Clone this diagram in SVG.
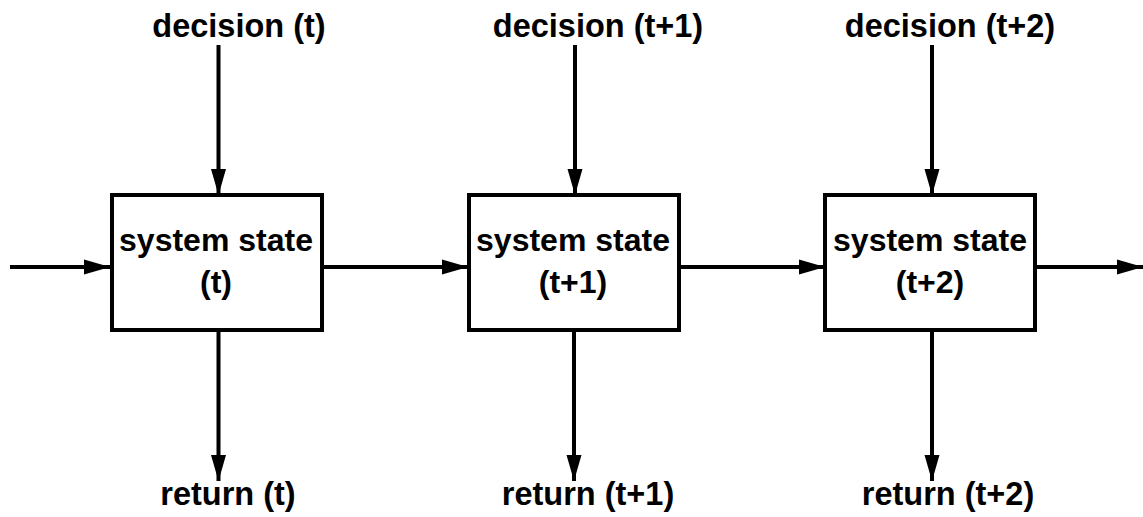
<svg xmlns="http://www.w3.org/2000/svg" width="1143" height="517" viewBox="0 0 1143 517">
<style>
.box{fill:#fff;stroke:#000;stroke-width:4}
.ln{stroke:#000;stroke-width:4;fill:none;marker-end:url(#ah)}
.lbl{font-family:"Liberation Sans",Arial,sans-serif;font-weight:bold;font-size:32.5px;fill:#000;text-anchor:middle}
.st{font-family:"Liberation Sans",Arial,sans-serif;font-weight:bold;font-size:32px;fill:#000;text-anchor:middle}
</style>
<defs>
<marker id="ah" markerUnits="userSpaceOnUse" markerWidth="27" markerHeight="18" refX="26" refY="9" orient="auto">
<path d="M0,1.5 L26,9 L0,16.5 Z" fill="#000"/>
</marker>
</defs>
<rect width="1143" height="517" fill="#fff"/>
<g id="connectors">
<line class="ln" x1="10" y1="267" x2="110" y2="267"/>
<line class="ln" x1="322" y1="267" x2="468" y2="267"/>
<line class="ln" x1="679" y1="267" x2="825" y2="267"/>
<line class="ln" x1="1035" y1="267" x2="1143" y2="267"/>
<line class="ln" x1="218.5" y1="45" x2="218.5" y2="195"/>
<line class="ln" x1="575" y1="45" x2="575" y2="195"/>
<line class="ln" x1="932" y1="45" x2="932" y2="195"/>
<line class="ln" x1="218.5" y1="330" x2="218.5" y2="481"/>
<line class="ln" x1="574" y1="330" x2="574" y2="481"/>
<line class="ln" x1="932" y1="330" x2="932" y2="481"/>
</g>
<g id="node-t">
<rect class="box" x="112" y="195" width="210" height="135"/>
<text class="st" x="216" y="251">system state</text>
<text class="st" x="216" y="293">(t)</text>
</g>
<g id="node-t1">
<rect class="box" x="469" y="195" width="210" height="135"/>
<text class="st" x="573" y="251">system state</text>
<text class="st" x="573" y="293">(t+1)</text>
</g>
<g id="node-t2">
<rect class="box" x="825" y="195" width="210" height="135"/>
<text class="st" x="930" y="251">system state</text>
<text class="st" x="930" y="293">(t+2)</text>
</g>
<g id="label-decision-t"><text class="lbl" x="239" y="37">decision (t)</text></g>
<g id="label-decision-t1"><text class="lbl" x="598" y="37">decision (t+1)</text></g>
<g id="label-decision-t2"><text class="lbl" x="950" y="37">decision (t+2)</text></g>
<g id="label-return-t"><text class="lbl" x="228" y="505">return (t)</text></g>
<g id="label-return-t1"><text class="lbl" x="588" y="505">return (t+1)</text></g>
<g id="label-return-t2"><text class="lbl" x="948" y="505">return (t+2)</text></g>
</svg>
